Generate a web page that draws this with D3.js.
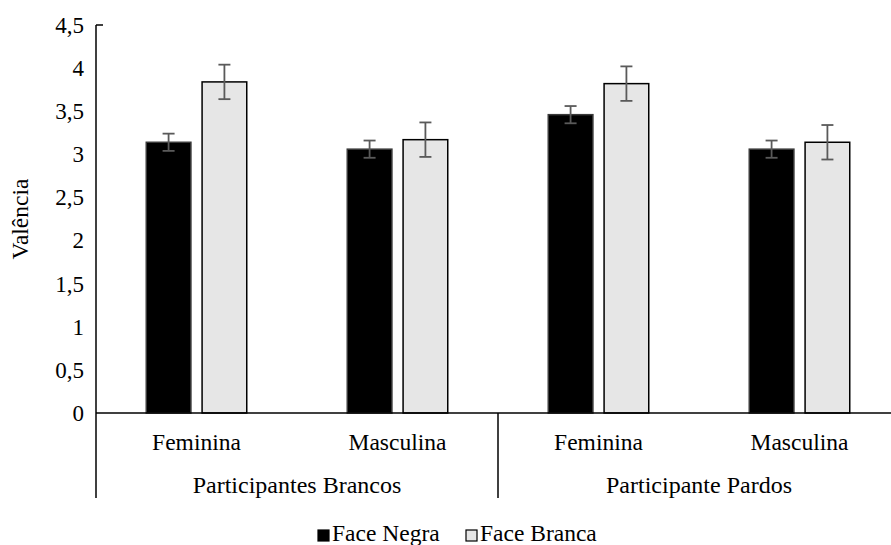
<!DOCTYPE html>
<html>
<head>
<meta charset="utf-8">
<script src="https://cdn.jsdelivr.net/npm/d3@7"></script>
<style>
  html, body { margin: 0; padding: 0; background: #fff; }
  svg { display: block; }
</style>
</head>
<body>
<svg id="chart" width="891" height="545"></svg>
<script>
// ---- data ----
const groups = ["Participantes Brancos", "Participante Pardos"];
const subcats = ["Feminina", "Masculina", "Feminina", "Masculina"];
const series = ["Face Negra", "Face Branca"];
const faceNegra = [3.14, 3.06, 3.46, 3.06];
const faceBranca = [3.84, 3.17, 3.82, 3.14];
const errNegra = [0.1, 0.1, 0.1, 0.1];
const errBranca = [0.2, 0.2, 0.2, 0.2];
const yTicks = [0, 0.5, 1, 1.5, 2, 2.5, 3, 3.5, 4, 4.5];
const yTitle = "Valência";

// ---- layout ----
const svg = d3.select("#chart");
const FONT = "Liberation Serif";
const mLeft = 96, mRight = 900, mTop = 25, mBottom = 413;
const fontSize = "23.5px";
const colors = { "Face Negra": "#000000", "Face Branca": "#e6e6e6" };
const strokes = { "Face Negra": "#3a3a3a", "Face Branca": "#000000" };

const y = d3.scaleLinear().domain([0, 4.5]).range([mBottom, mTop]);
const x0 = d3.scaleBand().domain(d3.range(subcats.length)).range([mLeft, mRight]).paddingInner(0).paddingOuter(0);
const bw = x0.bandwidth();
const x1 = d3.scaleBand().domain(series).range([bw * 0.25, bw * 0.75]).paddingInner(0.2).paddingOuter(0);

const rows = subcats.map((c, i) => ({
  i,
  vals: [
    { s: "Face Negra", v: faceNegra[i], e: errNegra[i] },
    { s: "Face Branca", v: faceBranca[i], e: errBranca[i] }
  ]
}));

function styleText(sel, size) {
  return sel.style("font-family", FONT).style("font-size", size || fontSize).style("fill", "#000");
}

// y axis
const yAxis = d3.axisLeft(y).tickValues(yTicks).tickSize(0).tickPadding(12)
  .tickFormat(d => String(d).replace(".", ","));
const gy = svg.append("g").attr("transform", `translate(${mLeft},0)`).call(yAxis);
gy.select(".domain").remove();
styleText(gy.selectAll("text"), "23px");
svg.append("line").attr("x1", mLeft).attr("x2", mLeft).attr("y1", mTop).attr("y2", mBottom)
  .attr("stroke", "#000").attr("stroke-width", 1.5);
svg.append("line").attr("x1", mLeft).attr("x2", mLeft + 7).attr("y1", mTop).attr("y2", mTop)
  .attr("stroke", "#000").attr("stroke-width", 1.5);

// y title
styleText(svg.append("text")
  .attr("transform", `translate(28,${(mTop + mBottom) / 2}) rotate(-90)`)
  .attr("text-anchor", "middle")
  .text(yTitle));

// bars
const g = svg.append("g");
const grp = g.selectAll("g.cat").data(rows).join("g")
  .attr("transform", d => `translate(${x0(d.i)},0)`);
grp.selectAll("rect").data(d => d.vals).join("rect")
  .attr("x", d => x1(d.s))
  .attr("width", x1.bandwidth())
  .attr("y", d => y(d.v))
  .attr("height", d => y(0) - y(d.v))
  .attr("fill", d => colors[d.s])
  .attr("stroke", d => strokes[d.s])
  .attr("stroke-width", 1.5);

// error bars
const capW = 12;
const eb = grp.selectAll("g.err").data(d => d.vals).join("g").attr("class", "err")
  .attr("stroke", "#5a5a5a").attr("stroke-width", 1.8);
eb.append("line")
  .attr("x1", d => x1(d.s) + x1.bandwidth() / 2).attr("x2", d => x1(d.s) + x1.bandwidth() / 2)
  .attr("y1", d => y(d.v + d.e)).attr("y2", d => y(d.v - d.e));
eb.append("line")
  .attr("x1", d => x1(d.s) + x1.bandwidth() / 2 - capW / 2).attr("x2", d => x1(d.s) + x1.bandwidth() / 2 + capW / 2)
  .attr("y1", d => y(d.v + d.e)).attr("y2", d => y(d.v + d.e));
eb.append("line")
  .attr("x1", d => x1(d.s) + x1.bandwidth() / 2 - capW / 2).attr("x2", d => x1(d.s) + x1.bandwidth() / 2 + capW / 2)
  .attr("y1", d => y(d.v - d.e)).attr("y2", d => y(d.v - d.e));

// x axis baseline
svg.append("line").attr("x1", mLeft).attr("x2", mRight).attr("y1", mBottom).attr("y2", mBottom)
  .attr("stroke", "#000").attr("stroke-width", 1.5);

// group separators
const sepBottom = 498;
[0, 2, 4].forEach(k => {
  const xx = k < subcats.length ? x0(k) : mRight;
  svg.append("line").attr("x1", xx).attr("x2", xx).attr("y1", mBottom).attr("y2", sepBottom)
    .attr("stroke", "#000").attr("stroke-width", 1.5);
});

// category labels
styleText(svg.selectAll("text.cat").data(subcats).join("text").attr("class", "cat")
  .attr("x", (d, i) => x0(i) + bw / 2)
  .attr("y", 450)
  .attr("text-anchor", "middle")
  .text(d => d));

// group labels
styleText(svg.selectAll("text.grp").data(groups).join("text").attr("class", "grp")
  .attr("x", (d, i) => (x0(i * 2) + x0(i * 2 + 1) + bw) / 2)
  .attr("y", 493)
  .attr("text-anchor", "middle")
  .text(d => d), "24px");

// legend
const legend = svg.append("g");
const legX = [318, 466];
series.forEach((s, i) => {
  legend.append("rect").attr("x", legX[i]).attr("y", 530).attr("width", 11).attr("height", 11)
    .attr("fill", colors[s]).attr("stroke", "#000").attr("stroke-width", 1.2);
  styleText(legend.append("text").attr("x", legX[i] + 14).attr("y", 541).text(s));
});
</script>
</body>
</html>
